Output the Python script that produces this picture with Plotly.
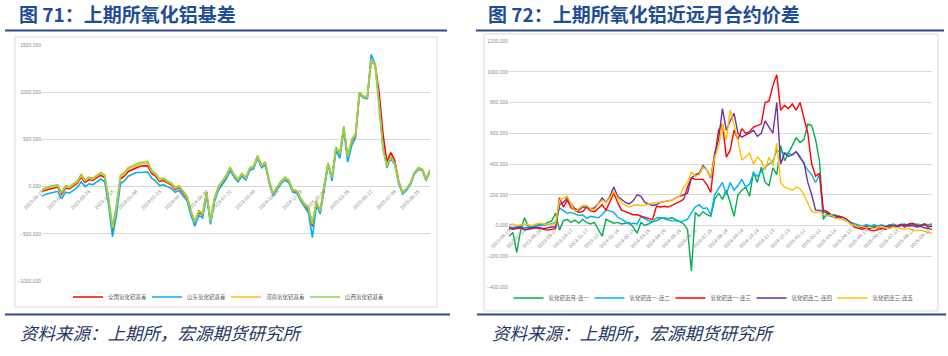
import plotly.graph_objects as go
import pandas as pd

W, H = 948, 356


def px(x):
    return x / W


def py(y):
    return 1 - y / H


# ---------------- Left chart data: SHFE alumina basis ----------------
left_names = ["全国氧化铝基差", "山东氧化铝基差", "河南氧化铝基差", "山西氧化铝基差"]
left_colors = ["#FF0000", "#00B0F0", "#FFC000", "#92D050"]

basis_national = [-50, -35, -25, -15, -5, -80, -15, -25, 5, 35,
                  100, 45, 75, 65, 95, 120, 95, -150, -470, -240,
                  80, 110, 160, 180, 200, 215, 220, 220, 140, 110,
                  55, 65, 40, 20, -30, -10, -70, -120, -270, -390,
                  -270, -300, -70, -380, -140, -20, 40, 100, 190, 115,
                  65, 125, 85, 185, 205, 315, 215, 245, 45, -85,
                  -15, 45, 85, 55, -45, -55, -135, -200, -250, -420,
                  -180, -270, 0, 240, 90, 400, 345, 620, 310, 480,
                  545, 990, 950, 940, 1330, 1290, 1000, 560, 260, 360,
                  280, 60, -70, -30, 30, 140, 195, 185, 75, 170]
basis_shandong = [-100, -80, -70, -60, -50, -130, -60, -70, -40, -10,
                  50, 0, 30, 20, 50, 80, 50, -200, -530, -300,
                  30, 60, 110, 130, 150, 150, 155, 155, 90, 60,
                  10, 20, 0, -20, -60, -40, -100, -150, -300, -420,
                  -300, -330, -100, -400, -160, -40, 20, 80, 170, 100,
                  50, 110, 70, 170, 190, 300, 200, 230, 30, -100,
                  -30, 30, 70, 40, -60, -70, -150, -220, -280, -540,
                  -200, -290, -10, 230, 60, 380, 300, 600, 260, 430,
                  520, 980, 940, 930, 1400, 1300, 900, 420, 200, 300,
                  230, 30, -80, -40, 20, 130, 180, 175, 60, 160]
basis_henan = [-40, -20, -10, 0, 10, -70, 0, -10, 20, 50,
               115, 60, 90, 80, 110, 140, 110, -135, -440, -215,
               100, 130, 185, 205, 225, 240, 245, 250, 160, 130,
               70, 80, 50, 30, -20, 0, -60, -110, -260, -380,
               -260, -290, -60, -370, -130, -10, 50, 110, 200, 120,
               70, 130, 90, 190, 210, 320, 220, 250, 50, -80,
               -10, 50, 90, 60, -40, -50, -130, -190, -235, -400,
               -165, -260, 10, 245, 95, 410, 350, 630, 315, 490,
               550, 995, 955, 945, 1340, 1295, 860, 410, 215, 315,
               245, 45, -65, -25, 35, 145, 190, 185, 70, 175]
basis_shanxi = [-30, -10, 0, 10, 20, -60, 10, 0, 30, 60,
                130, 70, 100, 90, 120, 150, 120, -120, -420, -200,
                120, 150, 200, 220, 240, 255, 260, 265, 170, 140,
                80, 90, 60, 40, -10, 10, -50, -100, -250, -370,
                -250, -280, -50, -360, -120, 0, 60, 120, 210, 130,
                80, 140, 100, 200, 220, 330, 230, 260, 60, -70,
                0, 60, 100, 70, -30, -40, -120, -180, -220, -380,
                -150, -250, 20, 255, 100, 420, 360, 640, 320, 500,
                560, 1000, 960, 950, 1350, 1300, 850, 400, 220, 320,
                250, 50, -60, -20, 40, 150, 200, 190, 80, 180]
left_series = [basis_national, basis_shandong, basis_henan, basis_shanxi]
left_y_ticks = [-1000, -500, 0, 500, 1000, 1500]

# ---------------- Right chart data: near/far month spreads ----------------
right_names = ["氧化铝近月-连一", "氧化铝连一-连二", "氧化铝连一-连三", "氧化铝连二-连四", "氧化铝连三-连五"]
right_colors = ["#00B050", "#00B0F0", "#FF0000", "#7030A0", "#FFC000"]

spread_m_c1 = [-70, -45, -175, -30, 50, -10, -15, 5, 10, 5,
               20, 30, 80, -30, 30, 40, 20, 35, 15, 40,
               20, 10, 20, -30, -70, 40, 25, 15, 20, 10,
               15, 20, -10, -50, 20, 0, 10, 25, 30, 45,
               50, 45, 50, 40, 25, 10, -25, -295, 84, 60,
               90, 70, 60, 170, 210, 170, 230, 150, 60, 200,
               230, 250, 190, 350, 280, 380, 280, 260, 375, 330,
               520, 420, 470, 520, 570, 540, 560, 660, 650, 560,
               420, 40, 80, 60, 70, 60, 50, 40, 10, 0,
               -10, -15, 0, -10, 5, -5, 0, -10, 5, 0,
               -5, 10, 0, 5, 10, 5, 0, 10, 5, 5]
spread_c1_c2 = [-10, -12, -8, -5, -15, -10, -5, 0, 0, 5,
                5, 10, 20, 115, 95, 80, 85, 75, 65, 70,
                45, 60, 55, 50, 70, 100, 95, 85, 55, 40,
                20, 10, 15, 10, 58, 45, 30, 25, 50, 50,
                45, 35, 30, 30, 25, 30, 40, 84, 120, 135,
                110, 115, 70, 200, 240, 280, 200, 280, 230, 260,
                300, 250, 270, 340, 320, 350, 380, 400, 420, 490,
                480, 470, 470, 460, 480, 450, 400, 360, 330, 280,
                330, 60, 70, 60, 50, 60, 40, 30, 20, 10,
                0, -5, 5, 0, -10, 0, 5, -5, 0, 10,
                0, 5, 10, 0, 5, 10, 5, 0, 5, 10]
spread_c1_c3 = [-20, -25, -20, -15, -30, -25, -20, -15, -20, -25,
                -30, -25, -20, 180, 120, 165, 115, 100, 85, 90,
                120, 95, 90, 110, 135, 100, 150, 210, 150, 100,
                90, 80, 70, 70, 60, 55, 45, 40, 125, 120,
                125, 120, 130, 140, 155, 170, 250, 310, 300, 300,
                300, 265, 215, 445, 620, 660, 445, 490, 620, 560,
                630, 600, 610, 640, 650, 660, 800, 810, 910, 980,
                750, 780, 760, 790, 750, 800, 700, 600, 400, 320,
                340, 100, 90, 70, 50, 60, 55, 40, 20, -10,
                -20, -25, -15, -30, -35, -30, -20, -25, -10, 0,
                -5, 5, -10, 10, 15, 0, -5, 10, -10, -5]
spread_c2_c4 = [-15, -20, -15, -10, -25, -20, -15, -10, -15, -20,
                -15, -10, -10, 135, 150, 180, 140, 110, 100, 120,
                120, 110, 115, 140, 180, 150, 190, 250, 190, 170,
                150, 140, 160, 200, 190, 150, 140, 130, 135, 150,
                155, 160, 165, 180, 190, 205, 210, 310, 330, 340,
                390, 360, 310, 470, 555, 760, 620, 680, 730, 600,
                575, 590, 600, 620, 580, 600, 680, 640, 600, 800,
                400, 470, 450, 460, 480, 440, 410, 280, 200, 100,
                100, 90, 80, 70, 60, 50, 45, 40, 20, 0,
                -10, -15, -5, -20, -10, -15, -5, -10, 0, -5,
                -10, 0, 5, -5, 0, -10, -5, -15, -20, -25]
spread_c3_c5 = [5, 10, 0, 5, 10, 5, 0, 10, 15, 10,
                5, 10, 10, 165, 180, 190, 140, 90, 110, 130,
                130, 110, 100, 140, 165, 150, 180, 220, 180, 150,
                130, 120, 130, 135, 130, 130, 140, 145, 150, 150,
                155, 160, 165, 180, 190, 250, 280, 350, 320, 330,
                380, 360, 315, 445, 510, 660, 555, 750, 660, 555,
                425, 450, 470, 400, 445, 420, 360, 445, 390, 535,
                280, 250, 240, 230, 250, 240, 200, 150, 90, 85,
                90, 70, 60, 70, 50, 40, 45, 30, 10, 0,
                -10, -5, -15, -10, -20, -10, -5, -15, -20, -10,
                -15, -20, -25, -20, -30, -35, -30, -40, -45, -50]
right_series = [spread_m_c1, spread_c1_c2, spread_c1_c3, spread_c2_c4, spread_c3_c5]
right_y_ticks = [-400, -200, 0, 200, 400, 600, 800, 1000, 1200]

NL = len(basis_shanxi)
NR = len(spread_m_c1)
left_dates = pd.date_range("2023-06-19", "2025-09-19", periods=NL).strftime("%Y-%m-%d").tolist()
right_dates = pd.date_range("2023-06-19", "2025-09-19", periods=NR).strftime("%Y-%m-%d").tolist()

fig = go.Figure()
for name, color, vals in zip(left_names, left_colors, left_series):
    fig.add_trace(go.Scatter(x=list(range(NL)), y=vals, name=name, mode="lines",
                             line=dict(color=color, width=1.6), xaxis="x", yaxis="y",
                             legend="legend"))
for name, color, vals in zip(right_names, right_colors, right_series):
    fig.add_trace(go.Scatter(x=list(range(NR)), y=vals, name=name, mode="lines",
                             line=dict(color=color, width=1.4), xaxis="x2", yaxis="y2",
                             legend="legend2"))

tickfont = dict(size=5, color="#8C8C8C", family="Liberation Sans")
grid = "#D9D9D9"

ly0, ly1 = 281, 45
lzero = ly0 - (0 - left_y_ticks[0]) / (left_y_ticks[-1] - left_y_ticks[0]) * (ly0 - ly1)
ry0, ry1 = 287, 41
rzero = ry0 - (0 - right_y_ticks[0]) / (right_y_ticks[-1] - right_y_ticks[0]) * (ry0 - ry1)

lt = list(range(0, NL, 6))
rt = list(range(0, NR, 4))

legend_font = dict(size=5.5, family="Noto Sans CJK SC", color="#595959")

fig.update_layout(
    width=W, height=H, margin=dict(l=0, r=0, t=0, b=0, pad=0, autoexpand=False),
    paper_bgcolor="white", plot_bgcolor="white",
    xaxis=dict(domain=[px(42), px(430)], range=[0, NL - 1], anchor="free", position=py(lzero),
               tickvals=lt, ticktext=[left_dates[i] for i in lt], tickangle=-45, automargin=False,
               tickfont=tickfont, showgrid=False, zeroline=False, showline=False, ticks=""),
    yaxis=dict(domain=[py(ly0), py(ly1)], range=[left_y_ticks[0], left_y_ticks[-1]], automargin=False,
               tickvals=left_y_ticks, tickformat=".3f", gridcolor=grid, gridwidth=1,
               zeroline=False, showline=False, tickfont=tickfont, anchor="x", ticks=""),
    xaxis2=dict(domain=[px(509), px(932)], range=[0, NR - 1], anchor="free", position=py(rzero),
                tickvals=rt, ticktext=[right_dates[i] for i in rt], tickangle=-45, automargin=False,
                tickfont=tickfont, showgrid=False, zeroline=False, showline=False, ticks=""),
    yaxis2=dict(domain=[py(ry0), py(ry1)], range=[right_y_ticks[0], right_y_ticks[-1]], automargin=False,
                tickvals=right_y_ticks, tickformat=".3f", gridcolor=grid, gridwidth=1,
                zeroline=False, showline=False, tickfont=tickfont, anchor="x2", ticks=""),
    legend=dict(orientation="h", x=px(226), y=py(297), xanchor="center", yanchor="middle",
                font=legend_font, itemwidth=30, entrywidth=34, bgcolor="rgba(0,0,0,0)"),
    legend2=dict(orientation="h", x=px(711), y=py(298), xanchor="center", yanchor="middle",
                 font=legend_font, itemwidth=30, entrywidth=36, bgcolor="rgba(0,0,0,0)"),
)

shapes = []
shapes.append(dict(type="rect", xref="paper", yref="paper", x0=px(15), x1=px(437), y0=py(307), y1=py(37),
                   line=dict(color="#D9D9D9", width=1), layer="below"))
shapes.append(dict(type="rect", xref="paper", yref="paper", x0=px(484), x1=px(938), y0=py(311), y1=py(34),
                   line=dict(color="#D9D9D9", width=1), layer="below"))
for x0, x1, y in [(5, 447, 30.5), (476, 944, 30.5), (5, 450, 314.5), (477, 946, 314.5)]:
    shapes.append(dict(type="line", xref="paper", yref="paper", x0=px(x0), x1=px(x1), y0=py(y), y1=py(y),
                       line=dict(color="#2F4B85", width=2.2)))
fig.update_layout(shapes=shapes)

title_font = dict(family="Noto Sans CJK SC", size=19, color="#1F4E96")
src_font = dict(family="Noto Sans CJK SC", size=17.5, color="#1F3864")
for text, x, y, f in [("<b>图 71：上期所氧化铝基差</b>", 17, 14, title_font),
                      ("<b>图 72：上期所氧化铝近远月合约价差</b>", 486, 14, title_font),
                      ("<i>资料来源：上期所，宏源期货研究所</i>", 18, 332, src_font),
                      ("<i>资料来源：上期所，宏源期货研究所</i>", 490, 332, src_font)]:
    fig.add_annotation(text=text, xref="paper", yref="paper", x=px(x), y=py(y),
                       xanchor="left", yanchor="middle", align="left", showarrow=False, font=f)

fig.write_html("out.html")
